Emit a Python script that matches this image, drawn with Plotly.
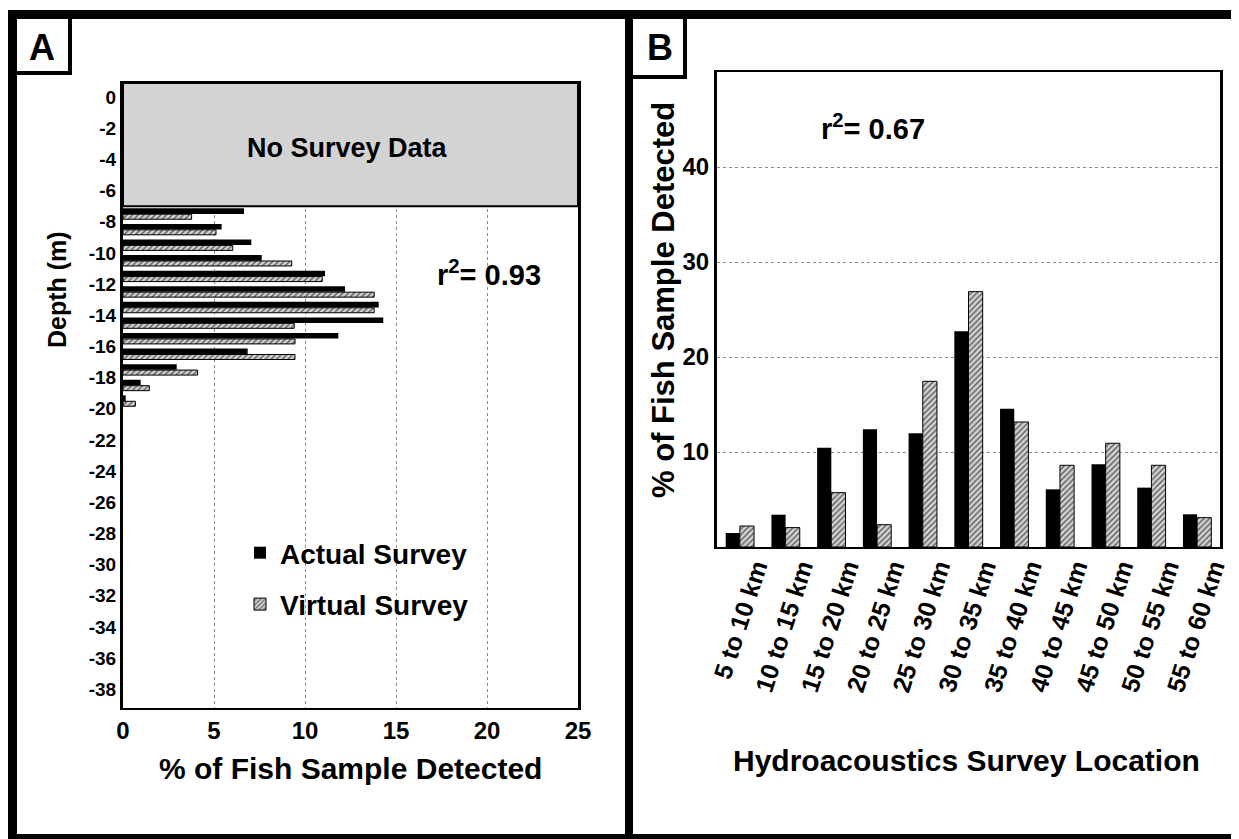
import plotly.graph_objects as go

# ---------------- data ----------------
# Panel A: depth bins (bin mid-depth, m) and % of fish sample detected
depth_mid = [-7.5, -8.5, -9.5, -10.5, -11.5, -12.5, -13.5, -14.5, -15.5, -16.5, -17.5, -18.5, -19.5]
actual_depth = [6.65, 5.42, 7.05, 7.62, 11.1, 12.2, 14.05, 14.3, 11.83, 6.85, 2.95, 0.97, 0.15]
virtual_depth = [3.77, 5.11, 6.03, 9.27, 10.95, 13.8, 13.8, 9.41, 9.45, 9.45, 4.1, 1.45, 0.68]

# Panel B: survey location and % of fish sample detected
locations = ["5 to 10 km", "10 to 15 km", "15 to 20 km", "20 to 25 km", "25 to 30 km",
             "30 to 35 km", "35 to 40 km", "40 to 45 km", "45 to 50 km", "50 to 55 km",
             "55 to 60 km"]
actual_loc = [1.47, 3.4, 10.46, 12.39, 11.97, 22.7, 14.56, 6.07, 8.7, 6.25, 3.44]
virtual_loc = [2.21, 2.04, 5.72, 2.35, 17.44, 26.88, 13.16, 8.6, 10.92, 8.6, 3.09]

depth_ticks = list(range(0, -40, -2))
depth_tick_text = [str(v) for v in depth_ticks]
pct_ticks_a = [0, 5, 10, 15, 20, 25]
pct_ticks_b = [10, 20, 30, 40]

# page offset (body margin) compensation: design in screen pixels
OFF = 8
W, H = 1239 - OFF, 839 - OFF
FONT = "Liberation Sans, Arial, Helvetica, sans-serif"


def px(x):
    return (x - OFF) / W


def py(y):
    return 1 - (y - OFF) / H


virt_marker = dict(color="#cccccc",
                   pattern=dict(shape="/", fgcolor="#5a5a5a", bgcolor="#d2d2d2", size=4, solidity=0.35),
                   line=dict(color="black", width=1))

fig = go.Figure()

# Panel A bars (horizontal)
fig.add_trace(go.Bar(x=actual_depth, y=depth_mid, orientation="h", name="Actual Survey",
                     marker=dict(color="black", line=dict(width=0)), width=0.36, offset=0.0,
                     xaxis="x", yaxis="y", legendgroup="a"))
fig.add_trace(go.Bar(x=virtual_depth, y=depth_mid, orientation="h", name="Virtual Survey",
                     marker=virt_marker, width=0.32, offset=-0.34,
                     xaxis="x", yaxis="y", legendgroup="v"))

# Panel B bars (vertical)
fig.add_trace(go.Bar(x=locations, y=actual_loc, name="Actual Survey",
                     marker=dict(color="black", line=dict(width=0)), width=0.31, offset=-0.31,
                     xaxis="x2", yaxis="y2", showlegend=False))
fig.add_trace(go.Bar(x=locations, y=virtual_loc, name="Virtual Survey",
                     marker=virt_marker, width=0.31, offset=0.0,
                     xaxis="x2", yaxis="y2", showlegend=False))


def tf(size):
    return dict(family=FONT, size=size, color="black", weight="bold")


fig.update_layout(
    template="none",
    width=W, height=H,
    margin=dict(l=0, r=0, t=0, b=0, pad=0, autoexpand=False),
    paper_bgcolor="white", plot_bgcolor="white",
    barmode="overlay",
    font=dict(family=FONT, color="black"),
    showlegend=True,
    legend=dict(x=px(240), y=py(528), xanchor="left", yanchor="top",
                font=tf(28), bgcolor="rgba(0,0,0,0)", borderwidth=0,
                tracegroupgap=12, itemwidth=30),
    xaxis=dict(domain=[px(123), px(578)], anchor="y", range=[0, 25], tickvals=pct_ticks_a,
               showgrid=True, gridcolor="#8c8c8c", griddash="dot", gridwidth=1,
               zeroline=False, showline=True, linecolor="black", linewidth=2, mirror=True,
               ticks="", tickfont=tf(24), automargin=False),
    yaxis=dict(domain=[py(708), py(83)], anchor="x", range=[-39.2, 0.9], tickvals=depth_ticks,
               ticktext=depth_tick_text,
               showgrid=False, zeroline=False, showline=True, linecolor="black", linewidth=3,
               mirror=True, ticks="", tickfont=tf(19), automargin=False),
    xaxis2=dict(domain=[px(717), px(1220)], anchor="y2", type="category", range=[-0.5, 10.5],
                showgrid=False, zeroline=False, showline=True, linecolor="black", linewidth=2,
                mirror=True, ticks="", tickangle=-72, tickfont=tf(25), automargin=False,
                ticklabelstandoff=-6, ticklabelshift=16),
    yaxis2=dict(domain=[py(547), py(72)], anchor="x2", range=[0, 50], tickvals=pct_ticks_b,
                showgrid=True, gridcolor="#8c8c8c", griddash="dot", gridwidth=1,
                zeroline=False, showline=True, linecolor="black", linewidth=3, mirror=True,
                ticks="", tickfont=tf(24), automargin=False),
)

shapes = []
# "No Survey Data" region in panel A
shapes.append(dict(type="rect", xref="x", yref="y", x0=0, x1=25, y0=-7.0, y1=0.9,
                   fillcolor="#d3d3d3", line=dict(color="black", width=2), layer="above"))


def block(x0, x1, y0, y1):
    return dict(type="rect", xref="paper", yref="paper", x0=px(x0), x1=px(x1),
                y0=py(y1), y1=py(y0), fillcolor="black", line=dict(width=0), layer="above")


# outer frame and divider
shapes += [block(7, 1239, 10, 19), block(7, 17, 10, 839), block(1234, 1239, 10, 839),
           block(7, 1239, 834, 839), block(625, 633, 10, 839)]
# panel label boxes
shapes += [block(68, 72, 19, 75), block(17, 72, 71, 75),
           block(683, 687, 19, 79), block(633, 687, 75, 79)]
fig.update_layout(shapes=shapes)

ann = []


def text(x, y, s, size=24, angle=0):
    ann.append(dict(x=px(x), y=py(y), xref="paper", yref="paper", text=s, showarrow=False,
                    textangle=angle, xanchor="center", yanchor="middle", font=tf(size)))


text(42, 47, "A", 36)
text(660, 48, "B", 36)
text(347, 148, "No Survey Data", 27)
text(489, 273, "r<sup>2</sup>= 0.93", 29)
text(873, 127, "r<sup>2</sup>= 0.67", 29)
text(57, 290, "Depth (m)", 25, -90)
text(350, 768, "% of Fish Sample Detected", 30)
text(664, 300, "% of Fish Sample Detected", 31, -90)
text(966, 760, "Hydroacoustics Survey Location", 30)
fig.update_layout(annotations=ann)

fig.write_html("out.html")
